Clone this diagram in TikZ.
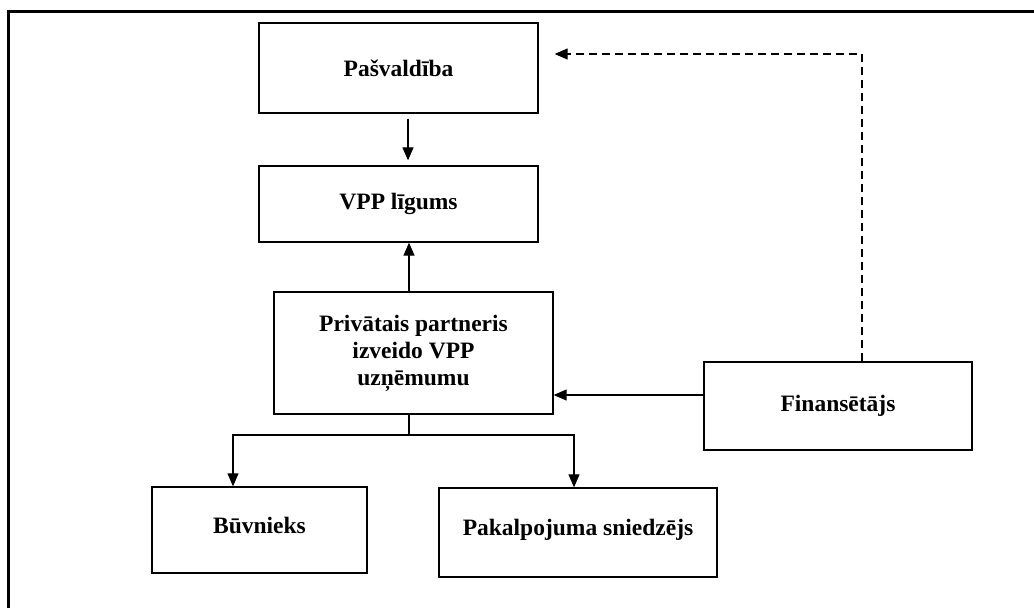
\documentclass[tikz,border=0pt]{standalone}
\usepackage{fontspec}
\setmainfont{Liberation Serif}
\usetikzlibrary{arrows.meta}
\begin{document}
\begin{tikzpicture}[x=1pt,y=-1pt,
  box/.style={draw, line width=1.3pt, align=center, inner sep=0pt,
    font=\fontsize{23.5}{27}\selectfont\bfseries},
  lowtext/.style={text depth=10pt},
  arr/.style={line width=1.1pt, -{Triangle[length=13pt,width=11pt]}},
  conn/.style={line width=1.1pt}]
\useasboundingbox (0,0) rectangle (1034,608);
\draw[line width=3pt] (8,608) -- (8,11) -- (1034,11);

\node[box, minimum width=279pt, minimum height=90pt] (pas) at (398.5,68) {Pašvaldība};
\node[box, minimum width=279pt, minimum height=76pt] (vpp) at (398.5,204) {VPP līgums};
\node[box, minimum width=279pt, minimum height=122pt] (priv) at (413.5,353)
  {Privātais partneris\\izveido VPP\\uzņēmumu};
\node[box, minimum width=268pt, minimum height=88pt] (fin) at (838,406) {Finansētājs};
\node[box, lowtext, minimum width=215pt, minimum height=86pt] (buv) at (259.5,530) {Būvnieks};
\node[box, lowtext, minimum width=278pt, minimum height=89pt] (pak) at (578,532.5) {Pakalpojuma sniedzējs};

\coordinate (c1) at (408,0);
\coordinate (c2) at (409,0);
\coordinate (split) at (409,435);
\coordinate (bx) at (233,0);
\coordinate (px) at (574,0);
\coordinate (fy) at (0,395);
\coordinate (dtop) at (862,54);

\draw[arr, shorten <=5pt, shorten >=5pt] (pas.south -| c1) -- (vpp.north -| c1);
\draw[arr] (priv.north -| c2) -- (vpp.south -| c2);
\draw[conn] (priv.south -| split) -- (split);
\draw[arr] (split) -| (buv.north -| bx);
\draw[arr] (split) -| (pak.north -| px);
\draw[arr] (fin.west |- fy) -- (priv.east |- fy);
\draw[arr, dash pattern=on 8pt off 5pt, shorten >=16pt] (fin.north -| dtop) |- (pas.east |- dtop);
\end{tikzpicture}
\end{document}
